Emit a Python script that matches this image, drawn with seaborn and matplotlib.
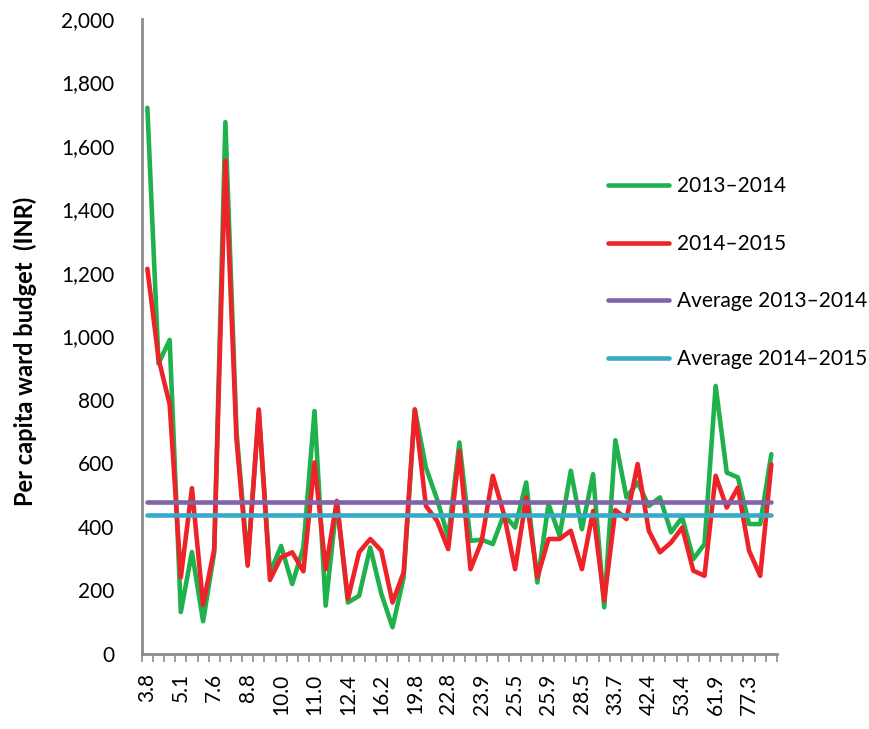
import matplotlib
matplotlib.use('Agg')
import matplotlib.pyplot as plt
import seaborn as sns
import numpy as np
import pandas as pd
from matplotlib.ticker import FuncFormatter

# per capita ward budget (INR), wards sorted along the x axis
budget_2013_14 = [1720, 915, 989, 132, 321, 103, 320, 1675, 700, 290,
                  760, 255, 340, 220, 335, 765, 152, 477, 162, 183,
                  335, 189, 84, 241, 770, 587, 487, 367, 666, 356,
                  360, 346, 440, 398, 540, 225, 472, 372, 577, 393,
                  566, 147, 673, 493, 540, 466, 493, 383, 430, 299,
                  346, 844, 571, 556, 409, 409, 629]
budget_2014_15 = [1213, 930, 786, 241, 522, 155, 330, 1554, 675, 278,
                  770, 233, 304, 320, 260, 603, 267, 482, 173, 320,
                  362, 325, 162, 257, 770, 466, 419, 330, 639, 267,
                  355, 561, 440, 267, 493, 241, 362, 362, 388, 267,
                  450, 168, 453, 425, 598, 388, 320, 351, 398, 262,
                  246, 561, 461, 524, 325, 246, 597]

# only every third ward gets a label
tick_labels = ['3.8', '5.1', '7.6', '8.8', '10.0', '11.0', '12.4', '16.2', '19.8',
               '22.8', '23.9', '25.5', '25.9', '28.5', '33.7', '42.4', '53.4',
               '61.9', '77.3']

series_names = ['2013–2014', '2014–2015', 'Average 2013–2014', 'Average 2014–2015']
colors = ['#1fb14c', '#ee2229', '#8064a8', '#38aac8']

n = len(budget_2013_14)
wards = np.arange(n)
avg_13 = np.mean(budget_2013_14)
avg_14 = np.mean(budget_2014_15)

df = pd.concat([
    pd.DataFrame({'ward': wards, 'budget': budget_2013_14, 'series': series_names[0]}),
    pd.DataFrame({'ward': wards, 'budget': budget_2014_15, 'series': series_names[1]}),
    pd.DataFrame({'ward': wards, 'budget': np.full(n, avg_13), 'series': series_names[2]}),
    pd.DataFrame({'ward': wards, 'budget': np.full(n, avg_14), 'series': series_names[3]}),
])

sns.set_theme(style='white')
plt.rcParams['font.family'] = ['Lato', 'DejaVu Sans']
plt.rcParams['text.color'] = 'black'
plt.rcParams['axes.labelcolor'] = 'black'
plt.rcParams['xtick.color'] = 'black'
plt.rcParams['ytick.color'] = 'black'

fig = plt.figure(figsize=(8.7, 7.29), dpi=100)
ax = fig.add_axes([0.163, 0.103, 0.730, 0.871])

sns.lineplot(data=df, x='ward', y='budget', hue='series', hue_order=series_names,
             palette=colors, linewidth=3.3, ax=ax, legend=False, sort=False)

ax.set_xlim(-0.5, n - 0.5)
ax.set_ylim(0, 2000)

# axes styling
gray = '#8c8c8c'
for side in ['top', 'right']:
    ax.spines[side].set_visible(False)
for side in ['left', 'bottom']:
    ax.spines[side].set_color(gray)
    ax.spines[side].set_linewidth(2)

ax.set_yticks(np.arange(0, 2001, 200))
ax.yaxis.set_major_formatter(FuncFormatter(lambda v, p: f'{v:,.0f}'))
ax.tick_params(axis='y', direction='out', length=5, width=1.5, color=gray,
               labelsize=15, pad=15)

ax.set_xticks(wards[::3])
ax.set_xticklabels(tick_labels, rotation=90)
ax.set_xticks(np.arange(-0.5, n, 1), minor=True)
ax.tick_params(axis='x', which='major', length=0, labelsize=15, pad=14)
ax.tick_params(axis='x', which='minor', direction='out', length=6, width=1.2,
               color=gray, bottom=True)

ax.set_xlabel('')
ax.set_ylabel('Per capita ward budget  (INR)', fontsize=17, fontweight='bold')
ax.yaxis.set_label_coords(-0.165, 0.476)

# legend without frame, right side of the plot
handles = ax.get_lines()[:4]
ax.legend(handles, series_names, loc='upper left', bbox_to_anchor=(0.699, 0.758),
          bbox_transform=fig.transFigure, frameon=False, fontsize=15,
          handlelength=2.9, handletextpad=0.4, labelspacing=1.8,
          borderpad=0, borderaxespad=0)

plt.savefig('out.png', dpi=100)
plt.close()
